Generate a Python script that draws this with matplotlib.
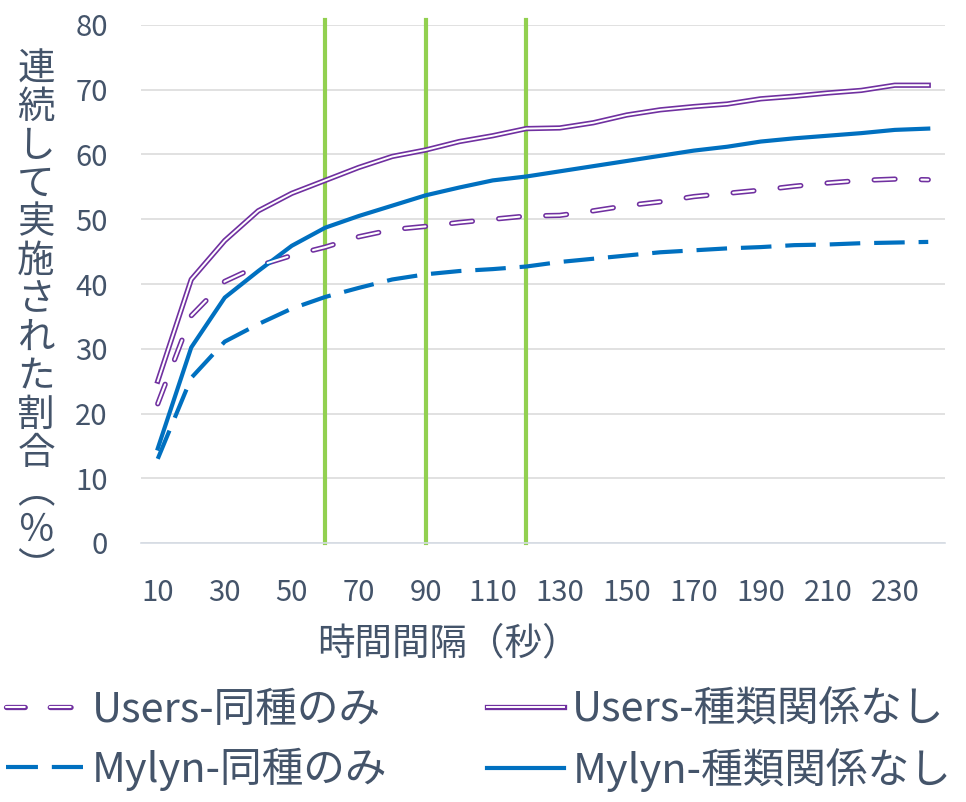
import matplotlib
matplotlib.use("Agg")
import matplotlib.pyplot as plt
from matplotlib.lines import Line2D
from matplotlib.legend_handler import HandlerTuple

# ── データ ─────────────────────────────────────────────
x_sec = [10, 20, 30, 40, 50, 60, 70, 80, 90, 100, 110, 120,
         130, 140, 150, 160, 170, 180, 190, 200, 210, 220, 230, 240]
x_ticks = [10, 30, 50, 70, 90, 110, 130, 150, 170, 190, 210, 230]
y_ticks = [0, 10, 20, 30, 40, 50, 60, 70, 80]
green_x = [60, 90, 120]

users_same = [21.5, 35.1, 40.4, 42.8, 44.4, 45.7, 47.3, 48.4, 48.9, 49.5, 50.0, 50.5,
              50.6, 51.3, 52.1, 52.7, 53.5, 54.0, 54.5, 55.1, 55.6, 56.0, 56.2, 56.1]
users_any = [25.0, 40.7, 46.7, 51.3, 54.0, 56.0, 58.0, 59.7, 60.7, 62.0, 62.9, 64.0,
             64.1, 64.9, 66.1, 66.9, 67.4, 67.8, 68.6, 69.0, 69.5, 69.9, 70.7, 70.7]
mylyn_same = [13.0, 25.5, 31.1, 33.8, 36.2, 38.0, 39.4, 40.7, 41.5, 42.0, 42.3, 42.7,
              43.4, 43.9, 44.4, 44.9, 45.2, 45.5, 45.7, 46.0, 46.1, 46.3, 46.4, 46.5]
mylyn_any = [14.6, 30.2, 37.9, 42.0, 45.9, 48.7, 50.5, 52.1, 53.7, 54.9, 56.0, 56.6,
             57.4, 58.2, 59.0, 59.8, 60.6, 61.2, 62.0, 62.5, 62.9, 63.3, 63.8, 64.0]

labels = ["Users-同種のみ", "Users-種類関係なし", "Mylyn-同種のみ", "Mylyn-種類関係なし"]
ylabel = "連続して実施された割合︵％︶"
xlabel = "時間間隔（秒）"

# ── スタイル ───────────────────────────────────────────
PURPLE = "#7030A0"
BLUE = "#0070C0"
GREEN = "#92D050"
TEXT = "#44546A"
GRID = "#D9D9D9"
DASH_U = (0, (15, 19))
DASH_M = (0, (22, 10))

plt.rcParams["font.family"] = ["Noto Sans CJK JP", "DejaVu Sans"]
plt.rcParams["lines.scale_dashes"] = False

fig = plt.figure(figsize=(9.66, 8.02), dpi=100)
ax = fig.add_axes([141 / 966, 1 - 543 / 802, (945 - 141) / 966, (543 - 25) / 802])

for g in green_x:
    ax.plot([g, g], [0, 80.8], color=GREEN, lw=3, clip_on=False, zorder=2)

# Users-同種のみ : 二重線の破線
ax.plot(x_sec, users_same, color=PURPLE, lw=3.8, linestyle=DASH_U,
        dash_capstyle="round", zorder=3)
ax.plot(x_sec, users_same, color="white", lw=1.5, linestyle=DASH_U,
        dash_capstyle="round", zorder=3.1)

# Users-種類関係なし : 二重線
ax.plot(x_sec, users_any, color=PURPLE, lw=3.8, zorder=3, solid_joinstyle="round")
ax.plot(x_sec, users_any, color="white", lw=1.4, zorder=3.1, solid_joinstyle="round")

# Mylyn
ax.plot(x_sec, mylyn_same, color=BLUE, lw=3, linestyle=DASH_M, zorder=3)
ax.plot(x_sec, mylyn_any, color=BLUE, lw=3, zorder=3, solid_joinstyle="round")

ax.set_xlim(5, 245)
ax.set_ylim(0, 80)
ax.set_xticks(x_ticks)
ax.set_yticks(y_ticks)
ax.yaxis.grid(True, color=GRID, lw=1.1)
ax.set_axisbelow(True)
for s in ["top", "right", "left"]:
    ax.spines[s].set_visible(False)
ax.spines["bottom"].set_color("#D6DCE4")
ax.spines["bottom"].set_linewidth(1.2)
ax.tick_params(axis="both", length=0, labelsize=21, colors=TEXT)
ax.tick_params(axis="y", pad=24)
ax.tick_params(axis="x", pad=25)

fig.text(448 / 966, 1 - 644 / 802, xlabel, fontsize=27, color=TEXT,
         ha="center", va="center")
fig.text(36 / 966, 1 - 319 / 802, "\n".join(ylabel), fontsize=27, color=TEXT,
         ha="center", va="center", linespacing=0.98)

# ── 凡例 ───────────────────────────────────────────────
leg_dash_u = (1.5, (15, 18))
h_us = (Line2D([], [], color=PURPLE, lw=3.8, linestyle=leg_dash_u, dash_capstyle="round"),
        Line2D([], [], color="white", lw=1.5, linestyle=leg_dash_u, dash_capstyle="round"))
h_ua = (Line2D([], [], color=PURPLE, lw=3.8),
        Line2D([], [], color="white", lw=1.4))
h_ms = Line2D([], [], color=BLUE, lw=3, linestyle=(0, (23, 10)))
h_ma = Line2D([], [], color=BLUE, lw=3)

# 行ごとに並べるため列優先の順序で渡す
fig.legend([h_us, h_ms, h_ua, h_ma], [labels[0], labels[2], labels[1], labels[3]],
           ncol=2, frameon=False,
           loc="upper left", bbox_to_anchor=(6 / 966, 1 - 690 / 802),
           borderpad=0, borderaxespad=0, fontsize=30, labelcolor=TEXT,
           handlelength=1.85, handletextpad=0.2, columnspacing=2.4,
           labelspacing=0.4, handler_map={tuple: HandlerTuple(ndivide=1)})

fig.savefig("out.png", dpi=100)
